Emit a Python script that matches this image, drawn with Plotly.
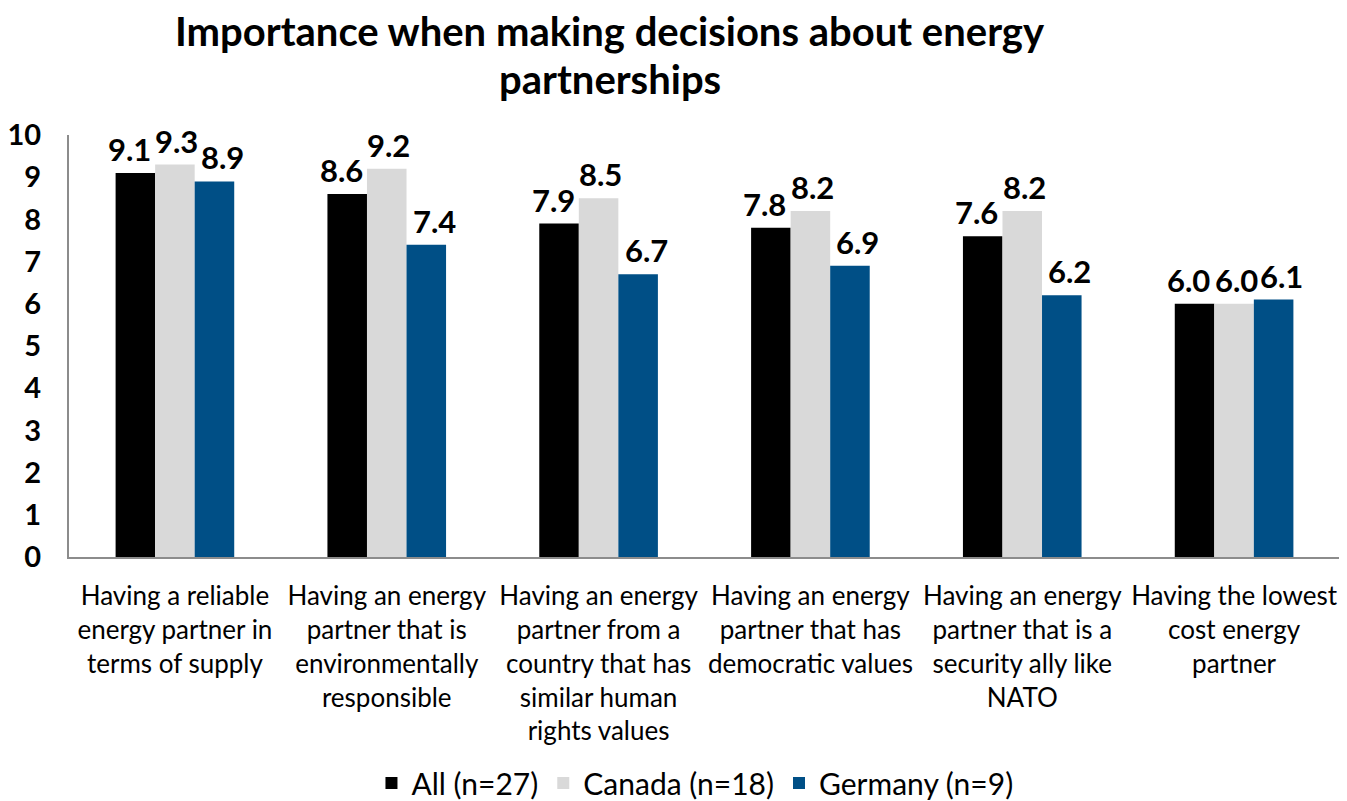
import plotly.graph_objects as go

categories = [
    "Having a reliable<br>energy partner in<br>terms of supply",
    "Having an energy<br>partner that is<br>environmentally<br>responsible",
    "Having an energy<br>partner from a<br>country that has<br>similar human<br>rights values",
    "Having an energy<br>partner that has<br>democratic values",
    "Having an energy<br>partner that is a<br>security ally like<br>NATO",
    "Having the lowest<br>cost energy<br>partner",
]
all_vals = [9.1, 8.6, 7.9, 7.8, 7.6, 6.0]
canada_vals = [9.3, 9.2, 8.5, 8.2, 8.2, 6.0]
germany_vals = [8.9, 7.4, 6.7, 6.9, 6.2, 6.1]
series_names = ["All (n=27)", "Canada (n=18)", "Germany (n=9)"]
colors = ["#000000", "#D9D9D9", "#004F86"]
title_lines = ["Importance when making decisions about energy", "partnerships"]

FONT = "Lato, Open Sans, sans-serif"

# page body has an 8px default margin, so the figure is drawn 8px smaller
W, H = 1339, 793
L, R, T, B = 61, 7, 127, 244

fig = go.Figure()
series = [all_vals, canada_vals, germany_vals]
label_xshift = [-6, 2, 8]
for k, (name, vals, col) in enumerate(zip(series_names, series, colors)):
    fig.add_trace(go.Bar(
        x=categories, y=vals, name=name, offsetgroup=str(k),
        marker=dict(color=col, line=dict(width=0)),
    ))

# data labels as annotations placed on each bar through the axes
n = len(series)
width_frac = (1 - 0.44) / n
for k, vals in enumerate(series):
    for i, v in enumerate(vals):
        xpos = i - (1 - 0.44) / 2 + width_frac * (k + 0.5)
        fig.add_annotation(
            x=xpos, y=v, xref="x", yref="y", text=f"<b>{v:.1f}</b>",
            showarrow=False, xanchor="center", yanchor="bottom",
            xshift=label_xshift[k], yshift=3,
            font=dict(family=FONT, size=31, color="#000000"),
        )

plot_h = H - T - B
plot_w = W - L - R
for line, yc in zip(title_lines, [23, 71]):
    fig.add_annotation(
        text=f"<b>{line}</b>",
        xref="paper", yref="paper", x=(602 - L) / plot_w, y=(H - B - yc) / plot_h,
        xanchor="center", yanchor="middle", showarrow=False,
        font=dict(family=FONT, size=40, color="#000000"),
    )

fig.update_layout(
    width=W, height=H,
    paper_bgcolor="white", plot_bgcolor="white",
    barmode="group", bargap=0.44, bargroupgap=0,
    margin=dict(l=L, r=R, t=T, b=B, autoexpand=False),
    font=dict(family=FONT, color="#000000"),
    legend=dict(
        orientation="h", x=0.4925, xanchor="center", y=-0.5355, yanchor="middle",
        font=dict(family=FONT, size=30, color="#000000"),
        traceorder="normal",
    ),
    showlegend=True,
)
fig.update_xaxes(
    type="category",
    showline=True, linecolor="#8C8C8C", linewidth=2,
    tickfont=dict(family=FONT, size=26, color="#000000"),
    ticks="", showgrid=False, automargin=False,
    ticklabelstandoff=15,
)
fig.update_yaxes(
    range=[0, 10], dtick=1, showline=True, linecolor="#8C8C8C", linewidth=2,
    showgrid=False, zeroline=False, ticks="", automargin=False,
    tickfont=dict(family=FONT, size=29, color="#000000", weight="bold"),
    ticklabelstandoff=20,
)

fig.write_html("out.html")
